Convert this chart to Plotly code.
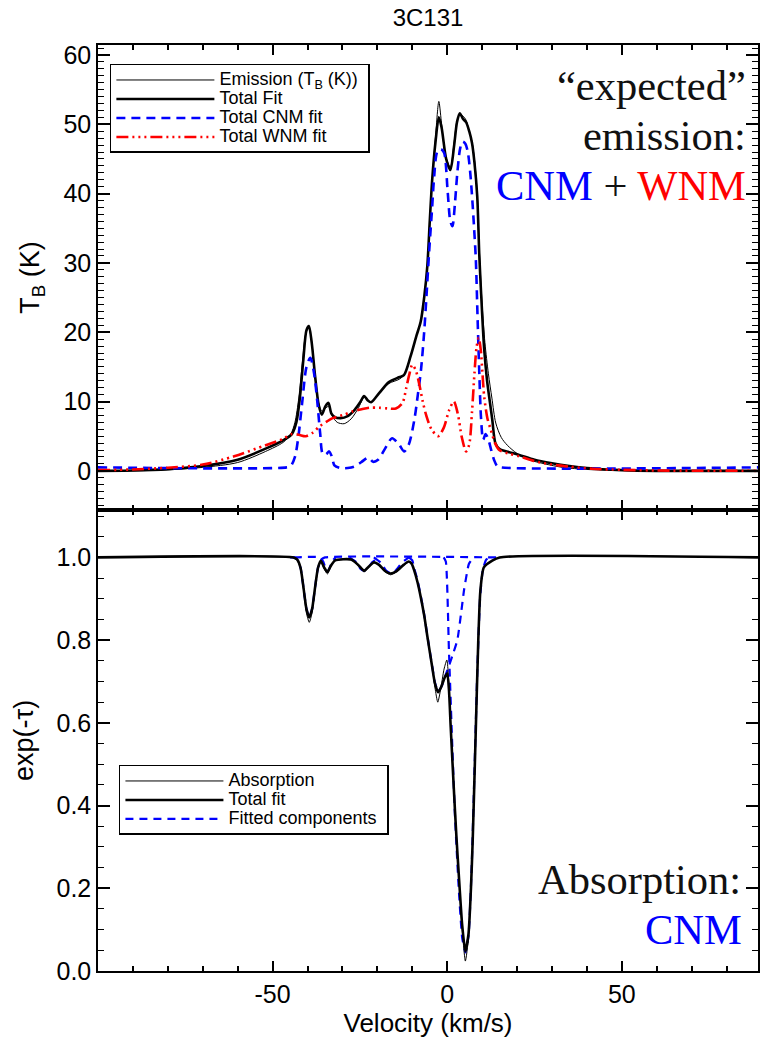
import plotly.graph_objects as go
from plotly.subplots import make_subplots

# ---------------- Top panel: emission (velocity km/s, T_B in K) ----------------
em_v = [-100, -90, -80, -70, -60, -52, -47, -44.8, -43.6, -42.5, -41.5, -40.5, -39.7, -38.9, -37.9,
        -36.9, -35.9, -34.9, -34.0, -33.0, -31.5, -29.5, -27.5, -25.5, -23.8, -22.8, -21.8, -19.5,
        -16.7, -13.8, -12.4, -10.5, -8.8, -7.6, -6.6, -5.7, -5.0, -4.3, -3.3, -2.4, -1.7, -0.5, 0.9,
        2.0, 2.8, 3.6, 4.5, 5.4, 6.3, 7.1, 7.8, 8.6, 9.2, 10.0, 10.8, 11.8, 12.8, 13.9, 15.5, 17.2,
        20, 23.4, 28, 33, 40, 50, 89]
em_T = [0.0, 0.0, 0.15, 0.5, 1.2, 2.8, 4.1, 5.3, 7.0, 10.5, 15.5, 19.8, 20.6, 19.0, 14.0,
        10.0, 8.6, 9.0, 9.3, 8.0, 7.0, 6.8, 7.5, 9.0, 10.6, 10.2, 9.9, 11.2,
        12.6, 13.2, 13.8, 16.5, 19.5, 21.5, 25.0, 29.5, 36.0, 42.0, 48.5, 53.3, 50.5, 45.5, 43.8,
        47.5, 50.5, 51.4, 51.2, 50.6, 49.0, 47.5, 45.0, 40.0, 32.0, 24.0, 18.5, 14.0, 10.5, 6.9, 4.8, 3.7,
        2.5, 1.6, 1.0, 0.5, 0.2, 0.05, 0.0]

fit_v = [-100, -90, -80, -70, -60, -52, -47, -44.5, -43.2, -42.2, -41.2, -40.3, -39.6, -38.8, -37.8,
         -36.8, -35.9, -34.9, -34.0, -33.2, -32.3, -30.5, -28.5, -26.5, -24.8, -23.8, -22.8, -21.8,
         -19.5, -16.7, -13.8, -12.4, -10.5, -8.8, -7.6, -6.6, -5.7, -5.0, -4.3, -3.3, -2.4, -1.6, -0.3,
         0.9, 2.0, 2.8, 3.6, 4.5, 5.4, 6.3, 7.1, 7.8, 8.6, 9.2, 10.0, 10.6, 11.4, 12.2, 12.9, 13.8,
         14.9, 17, 20.6, 25, 30, 35, 40, 50, 60, 89]
fit_T = [0.0, 0.05, 0.25, 0.7, 1.6, 3.2, 4.4, 5.3, 7.0, 10.5, 16.0, 20.3, 20.9, 18.5, 13.5,
         9.5, 8.1, 9.3, 9.8, 8.3, 7.8, 7.6, 7.9, 8.8, 10.0, 10.8, 10.2, 9.9,
         11.2, 12.8, 13.5, 13.8, 16.5, 19.5, 21.5, 25.0, 29.5, 36.0, 42.0, 47.7, 51.0, 49.5, 45.0,
         43.4, 47.0, 50.3, 51.6, 50.8, 50.3, 49.0, 47.3, 44.5, 39.6, 31.0, 22.7, 17.5, 13.1, 10.0, 7.4, 4.0,
         3.2, 2.8, 2.3, 1.6, 1.1, 0.7, 0.4, 0.1, 0.0, 0.0]

cnm_v = [-100, -46, -44.8, -43.6, -42.6, -41.5, -40.3, -39.2, -38.2, -37.2, -36.4, -35.6, -34.7,
         -33.8, -33.0, -32.3, -30.5, -28.5, -26.6, -24.5, -22.6, -21.2, -19.8, -17.8, -15.8, -13.8,
         -12.3, -11.0, -9.4, -8.4, -7.5, -6.6, -5.9, -5.2, -4.3, -3.8, -2.8, -1.8, -0.9, 0.1, 0.9,
         1.5, 2.2, 2.9, 3.7, 4.4, 5.2, 5.9, 6.6, 7.2, 7.7, 8.2, 8.7, 9.2, 9.7, 10.3, 11.0, 11.8,
         12.6, 13.4, 14.3, 15.5, 89]
cnm_T = [0.5, 0.5, 0.7, 2.0, 5.0, 10.0, 15.0, 16.3, 14.3, 10.0, 5.5, 2.4, 2.4,
         2.8, 2.0, 0.8, 0.4, 0.4, 0.6, 1.3, 1.9, 1.3, 1.6, 3.2, 4.7, 3.8,
         2.8, 3.8, 7.4, 11.0, 14.6, 20.0, 25.5, 31.4, 38.1, 42.0, 46.1, 46.4, 45.9, 40.5, 36.0,
         35.3, 38.5, 43.0, 46.5, 47.5, 47.2, 46.0, 43.0, 39.0, 35.0, 30.5, 22.0, 14.0, 7.5, 4.5, 5.3, 4.5,
         3.0, 1.6, 0.7, 0.5, 0.5]

wnm_v = [-100, -90, -80, -70, -61, -52, -47, -44.5, -42.5, -40.5, -38.5, -36.6, -34.5, -32.8, -29.5,
         -27, -24.5, -22.3, -19.5, -17, -14.7, -12.8, -11.8, -10.9, -10.0, -9.0, -8.0, -7.0, -6.0,
         -4.5, -2.6, -1.0, 0.6, 1.9, 3.0, 4.2, 5.4, 6.3, 7.1, 7.8, 8.4, 9.0, 9.6, 10.1, 10.6, 11.5,
         12.5, 13.7, 14.9, 17.5, 20.6, 25, 30, 35, 41.4, 50, 60, 89]
wnm_T = [0.1, 0.2, 0.45, 0.9, 2.1, 3.7, 4.6, 5.3, 5.2, 5.0, 5.5, 6.4, 7.1, 7.6, 8.1,
         8.6, 8.9, 9.1, 9.1, 9.0, 9.0, 9.8, 11.8, 13.8, 15.3, 14.5, 12.5, 10.0, 8.0,
         6.0, 5.0, 6.2, 8.8, 10.0, 8.3, 4.8, 2.8, 3.8, 8.5, 14.0, 17.8, 19.2, 17.5, 14.0, 10.7, 7.6,
         5.9, 4.0, 3.0, 2.5, 2.1, 1.4, 0.9, 0.6, 0.3, 0.15, 0.05, 0.0]

# ---------------- Bottom panel: absorption exp(-tau) ----------------
abs_v = [-100, -44, -43, -42, -41.2, -40.3, -39.5, -38.7, -37.8, -37, -36.2, -35.2, -34.3, -33.3,
         -32.1, -27.5, -25.5, -23.8, -22.2, -21, -19.5, -17.8, -16.2, -14.5, -12.5, -11, -10.2, -9.5,
         -8.5, -7.6, -6.6, -5.7, -4.3, -3.5, -2.7, -1.9, -0.9, -0.1, 0.5, 1.0, 1.9, 2.6, 3.3, 4.3,
         5.2, 6.1, 6.8, 7.3, 8.1, 8.9, 9.5, 10.5, 12.9, 15, 89]
abs_e = [1.0, 1.0, 0.994, 0.972, 0.925, 0.865, 0.843, 0.866, 0.925, 0.972, 0.99, 0.972, 0.96, 0.978,
         0.992, 0.994, 0.98, 0.965, 0.978, 0.988, 0.98, 0.965, 0.958, 0.965, 0.98, 0.99, 0.985, 0.97,
         0.94, 0.905, 0.86, 0.81, 0.735, 0.685, 0.65, 0.68, 0.73, 0.752, 0.69, 0.59, 0.44, 0.33, 0.23, 0.1,
         0.024, 0.08, 0.2, 0.316, 0.557, 0.80, 0.92, 0.976, 0.992, 1.0, 1.0]

afit_v = [-100, -44, -43, -42, -41.2, -40.3, -39.5, -38.7, -37.8, -37, -36.2, -35.2, -34.3, -33.3,
          -32.1, -27.5, -25.5, -23.8, -22.2, -21, -19.5, -17.8, -16.2, -14.5, -12.5, -11, -10.2, -9.5,
          -8.5, -7.6, -6.6, -5.7, -4.3, -3.5, -2.6, -1.8, -0.7, 0.0, 0.5, 1.0, 1.9, 2.6, 3.3, 4.3,
          5.2, 6.1, 6.8, 7.3, 8.1, 8.9, 9.5, 10.5, 12.9, 15, 89]
afit_e = [1.0, 1.0, 0.995, 0.975, 0.93, 0.875, 0.855, 0.875, 0.93, 0.975, 0.992, 0.975, 0.965, 0.98,
          0.993, 0.995, 0.982, 0.968, 0.98, 0.988, 0.982, 0.967, 0.961, 0.967, 0.982, 0.99, 0.985, 0.97,
          0.94, 0.905, 0.86, 0.81, 0.735, 0.695, 0.674, 0.685, 0.71, 0.72, 0.68, 0.59, 0.44, 0.33, 0.235, 0.11,
          0.048, 0.09, 0.2, 0.316, 0.557, 0.80, 0.92, 0.976, 0.992, 1.0, 1.0]

# individual fitted components, exp(-tau_i)
comp1_v = [-45, -44, -43, -42, -41.2, -40.3, -39.5, -38.7, -37.8, -37, -36, -35, 14]
comp1_e = [1.0, 1.0, 0.995, 0.975, 0.93, 0.875, 0.855, 0.875, 0.93, 0.975, 0.995, 1.0, 1.0]
comp2_v = [-44, -36.5, -35.5, -34.8, -34.3, -33.8, -33, -32]
comp2_e = [1.0, 1.0, 0.99, 0.972, 0.966, 0.972, 0.99, 1.0]
comp3_v = [-28, -26, -24.8, -23.8, -22.8, -21.5, -19.5]
comp3_e = [1.0, 0.988, 0.972, 0.968, 0.972, 0.988, 1.0]
comp4_v = [-21, -19, -17.5, -16.2, -14.8, -13, -11]
comp4_e = [1.0, 0.987, 0.968, 0.962, 0.968, 0.987, 1.0]
comp5_v = [-11, -10, -9.5, -8.5, -7.6, -6.6, -5.7, -4.3, -3.5, -2.6, -1.5, -0.5, 0.6, 1.8,
           2.9, 3.9, 4.8, 5.6, 6.2, 7.5]
comp5_e = [1.0, 0.993, 0.975, 0.945, 0.908, 0.862, 0.812, 0.737, 0.697, 0.676, 0.69, 0.715,
           0.74, 0.77, 0.80, 0.86, 0.92, 0.96, 0.984, 1.0]
comp6_v = [-1.0, -0.4, 0.5, 1.4, 2.2, 3.3, 4.3, 5.2, 6.1, 7.0, 7.8, 8.6, 9.4, 10.2, 11.2, 12.5]
comp6_e = [1.0, 0.99, 0.774, 0.556, 0.38, 0.2, 0.08, 0.045, 0.085, 0.25, 0.48, 0.72, 0.9, 0.97,
           0.995, 1.0]

# tick labels
x_tickvals = [-50, 0, 50]
x_ticktext = ["-50", "0", "50"]
top_y_tickvals = [0, 10, 20, 30, 40, 50, 60]
top_y_ticktext = ["0", "10", "20", "30", "40", "50", "60"]
bot_y_tickvals = [0.0, 0.2, 0.4, 0.6, 0.8, 1.0]
bot_y_ticktext = ["0.0", "0.2", "0.4", "0.6", "0.8", "1.0"]

SANS = "Liberation Sans, Arial, Helvetica, sans-serif"
SERIF = "Liberation Serif, Times New Roman, serif"
BLUE = "#0000ff"
RED = "#ff0000"


def leg(txt):
    return "<span style='font-size:18px'>" + txt + "&nbsp;</span>"


fig = make_subplots(rows=2, cols=1, shared_xaxes=True, vertical_spacing=0,
                    row_heights=[0.502, 0.498])

# top traces
fig.add_trace(go.Scatter(x=em_v, y=em_T, mode="lines", name=leg("Emission (T<sub>B</sub> (K))"),
                         line=dict(color="black", width=1, shape="spline", smoothing=0.8),
                         legend="legend"), row=1, col=1)
fig.add_trace(go.Scatter(x=fit_v, y=fit_T, mode="lines", name=leg("Total Fit"),
                         line=dict(color="black", width=2.6, shape="spline", smoothing=0.8),
                         legend="legend"), row=1, col=1)
fig.add_trace(go.Scatter(x=cnm_v, y=cnm_T, mode="lines", name=leg("Total CNM fit"),
                         line=dict(color=BLUE, width=2.6, dash="9px,6px", shape="spline", smoothing=0.8),
                         legend="legend"), row=1, col=1)
fig.add_trace(go.Scatter(x=wnm_v, y=wnm_T, mode="lines", name=leg("Total WNM fit"),
                         line=dict(color=RED, width=2.6, dash="12px,4px,2px,4px,2px,4px,2px,4px",
                                   shape="spline", smoothing=0.8),
                         legend="legend"), row=1, col=1)

# bottom traces: components first (drawn underneath)
comps = [(comp1_v, comp1_e), (comp2_v, comp2_e), (comp3_v, comp3_e),
         (comp4_v, comp4_e), (comp5_v, comp5_e), (comp6_v, comp6_e)]
for i, (cv, ce) in enumerate(comps):
    fig.add_trace(go.Scatter(x=cv, y=ce, mode="lines", name=leg("Fitted components"),
                             legendgroup="comps", showlegend=(i == 0), legendrank=3,
                             line=dict(color=BLUE, width=2.2, dash="8px,6px", shape="spline", smoothing=0.5),
                             legend="legend2"), row=2, col=1)
fig.add_trace(go.Scatter(x=abs_v, y=abs_e, mode="lines", name=leg("Absorption"), legendrank=1,
                         line=dict(color="black", width=1, shape="spline", smoothing=0.6),
                         legend="legend2"), row=2, col=1)
fig.add_trace(go.Scatter(x=afit_v, y=afit_e, mode="lines", name=leg("Total fit"), legendrank=2,
                         line=dict(color="black", width=2.6, shape="spline", smoothing=0.6),
                         legend="legend2"), row=2, col=1)

axis_common = dict(showline=True, linecolor="black", linewidth=1.5, mirror="allticks",
                   ticks="inside", tickcolor="black", tickwidth=1.5, showgrid=False,
                   zeroline=False, tickfont=dict(family=SANS, size=25, color="black"))

fig.update_xaxes(**axis_common, range=[-100, 89], tickmode="array", tickvals=x_tickvals,
                 ticktext=x_ticktext, ticklen=10,
                 minor=dict(dtick=10, tick0=0, ticklen=5, tickwidth=1.5, tickcolor="black",
                            ticks="inside", showgrid=False))
fig.update_xaxes(showticklabels=False, row=1, col=1)
fig.update_xaxes(title=dict(text="Velocity (km/s)", font=dict(family=SANS, size=26, color="black"),
                            standoff=6), row=2, col=1)

fig.update_yaxes(**axis_common, row=1, col=1, range=[-5.63, 61.44], tickmode="array",
                 tickvals=top_y_tickvals, ticktext=top_y_ticktext, ticklen=12,
                 minor=dict(dtick=1, tick0=0, ticklen=6, tickwidth=1.2, tickcolor="black",
                            ticks="inside", showgrid=False),
                 title=dict(text="T<sub>B</sub> (K)", font=dict(family=SANS, size=27, color="black"),
                            standoff=16))
fig.update_yaxes(**axis_common, row=2, col=1, range=[0, 1.115], tickmode="array",
                 tickvals=bot_y_tickvals, ticktext=bot_y_ticktext, ticklen=12,
                 minor=dict(dtick=0.05, tick0=0, ticklen=6, tickwidth=1.2, tickcolor="black",
                            ticks="inside", showgrid=False),
                 title=dict(text="exp(-τ)", font=dict(family=SANS, size=27, color="black"),
                            standoff=15))

legend_common = dict(bgcolor="white", bordercolor="black", borderwidth=1.5,
                     font=dict(family=SANS, size=12.3, color="black"), itemwidth=98,
                     tracegroupgap=0, xanchor="left", yanchor="top", traceorder="normal")

annotations = [
    dict(text="\u201cexpected\u201d", x=0.985, y=0.9568),
    dict(text="emission:", x=0.985, y=0.9028),
    dict(text="<span style='color:#0000ff'>CNM</span> + <span style='color:#ff0000'>WNM</span>",
         x=0.985, y=0.8488),
    dict(text="Absorption:", x=0.977, y=0.0983),
    dict(text="<span style='color:#0000ff'>CNM</span>", x=0.979, y=0.0443),
]
ann_list = []
for a in annotations:
    ann_list.append(dict(text=a["text"], x=a["x"], y=a["y"], xref="paper", yref="paper",
                         xanchor="right", yanchor="middle", showarrow=False,
                         font=dict(family=SERIF, size=42.5, color="#111111")))

fig.update_layout(
    width=763, height=1042,
    margin=dict(l=98, r=3, t=45, b=71),
    paper_bgcolor="white", plot_bgcolor="white",
    title=dict(text="3C131", x=0.5, xref="paper", y=1 - 18 / 1042, yref="container",
               xanchor="center", yanchor="middle",
               font=dict(family=SANS, size=24, color="black")),
    legend=dict(**legend_common, x=0.018, y=0.9795),
    legend2=dict(**legend_common, x=0.0317, y=0.2225),
    annotations=ann_list,
)

fig.write_html("out.html")
